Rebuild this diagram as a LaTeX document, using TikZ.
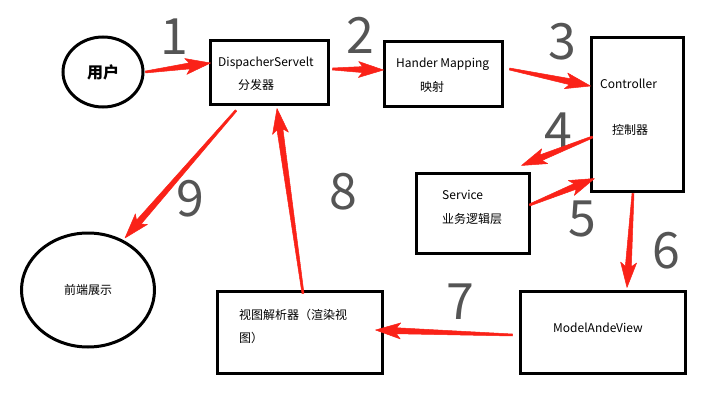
\documentclass[tikz,border=0pt]{standalone}
\usepackage{fontspec}
\setmainfont{Noto Sans CJK SC}
\usetikzlibrary{calc, shapes.geometric}
\definecolor{arrred}{RGB}{250,34,24}
\definecolor{handgray}{RGB}{85,85,85}

\begin{document}
\begin{tikzpicture}[
    x=1pt, y=-1pt,
    box/.style={rectangle, draw=black, line width=3pt, inner sep=0pt},
    bubble/.style={ellipse, draw=black, line width=3pt, inner sep=0pt},
    txt/.style={anchor=base west, inner sep=0pt, font=\fontsize{12}{14}\selectfont},
    num/.style={text=handgray, inner sep=0pt, font=\fontsize{50}{50}\selectfont},
    arr/.style={draw=arrred, fill=arrred, line width=0.5pt, line join=round, to path={
        let \p1=(\tikztostart), \p2=(\tikztotarget), \n1={atan2(\y2-\y1,\x2-\x1)} in
        ($(\p1)+(\n1+90:1pt)$) -- ($(\p2)!21pt!(\p1)+(\n1+90:3pt)$)
        -- ($(\p2)!25pt!(\p1)+(\n1+90:8pt)$) -- (\p2)
        -- ($(\p2)!25pt!(\p1)+(\n1-90:8pt)$) -- ($(\p2)!21pt!(\p1)+(\n1-90:3pt)$)
        -- ($(\p1)+(\n1-90:1pt)$) -- cycle}}
  ]
    \path[use as bounding box, fill=white] (0,0) rectangle (714,412);

    \node[bubble, minimum width=80, minimum height=70, font=\fontsize{16}{18}\selectfont\bfseries] (user) at (103,72) {用户};
    \node[box, minimum width=118, minimum height=63] (disp) at (269,72.5) {};
    \node[box, minimum width=118, minimum height=64] (hmap) at (443,74) {};
    \node[box, minimum width=92, minimum height=153] (ctrl) at (637,114.5) {};
    \node[box, minimum width=113, minimum height=80] (serv) at (472.5,213) {};
    \node[box, minimum width=165, minimum height=82] (mav) at (602.5,332) {};
    \node[box, minimum width=165, minimum height=82] (view) at (299.5,332) {};
    \node[bubble, minimum width=133, minimum height=114, font=\fontsize{12}{14}\selectfont] (front) at (88,290) {前端展示};

    \node[txt] (dispname) at (218,66.5) {DispacherServelt};
    \node[txt] (dispcn) at (238,89.5) {分发器};
    \node[txt] (hmapname) at (396,67.5) {Hander Mapping};
    \node[txt] (hmapcn) at (420,91.5) {映射};
    \node[txt] (ctrlname) at (600,88.5) {Controller};
    \node[txt] (ctrlcn) at (612,134.5) {控制器};
    \node[txt] (servname) at (442,199.5) {Service};
    \node[txt] (servcn) at (442,223) {业务逻辑层};
    \node[txt] (mavname) at (553,332.5) {ModelAndeView};
    \node[txt] (viewcn) at (239,319.5) {视图解析器（渲染视};
    \node[txt] (viewcnb) at (239,342.5) {图）};

    \node[num] (n1) at (174,37) {1};
    \node[num] (n2) at (360,35) {2};
    \node[num] (n3) at (562,42) {3};
    \node[num] (n4) at (558,131) {4};
    \node[num] (n5) at (582,219) {5};
    \node[num] (n6) at (666,251) {6};
    \node[num] (n7) at (460,302) {7};
    \node[num] (n8) at (343,192) {8};
    \node[num] (n9) at (190,199) {9};

    \draw[arr] ($(user.east)+(1,0)$) to ($(disp.west)+(2,-9.5)$);
    \draw[arr] ($(disp.east)+(3,-3.5)$) to ($(hmap.west)+(1,-4)$);
    \draw[arr] ($(hmap.east)+(6,-5)$) to ($(ctrl.west)+(1,-28.5)$);
    \draw[arr] ($(ctrl.west)+(3,22.5)$) to ($(serv.north east)+(-9,-6)$);
    \draw[arr] ($(serv.east)+(-1,-8)$) to ($(ctrl.south west)+(5,-14)$);
    \draw[arr] ($(ctrl.south)+(-4,1)$) to ($(mav.north)+(24.5,-2)$);
    \draw[arr] ($(mav.west)+(-6,3)$) to ($(view.east)+(-8,-2)$);
    \draw[arr] ($(view.north)+(3.5,4)$) to ($(disp.south)+(8,3)$);
    \draw[arr] ($(disp.south)+(-33,5)$) to ($(front.center)+(37,-52)$);
  \end{tikzpicture}
\end{document}
